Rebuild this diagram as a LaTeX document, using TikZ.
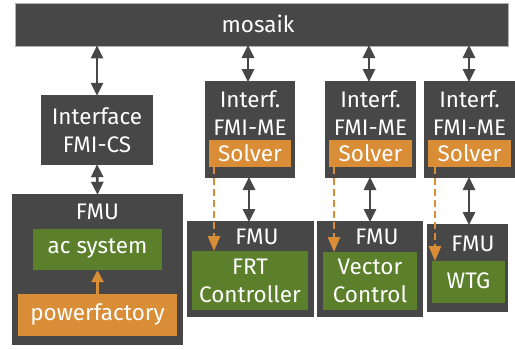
\documentclass[tikz,border=0pt]{standalone}
\usepackage{fontspec}
\setmainfont{Fira Sans}
\usetikzlibrary{arrows.meta}
\definecolor{dg}{HTML}{474747}
\definecolor{og}{HTML}{D98D36}
\definecolor{gn}{HTML}{5B7F2A}
\tikzset{
  dbox/.style={fill=dg, draw=none, inner sep=0pt},
  obox/.style={fill=og, draw=none, inner sep=0pt},
  gbox/.style={fill=gn, draw=none, inner sep=0pt},
  txt/.style={text=white, inner sep=0pt, align=center, font=\fontsize{22.5}{28}\selectfont},
  link/.style={draw=dg, line width=2.6pt, {Triangle[width=12pt,length=13pt]}-{Triangle[width=12pt,length=13pt]}, shorten <=-1pt, shorten >=-1pt},
  ctrl/.style={draw=og, line width=2.6pt, dash pattern=on 7pt off 4pt, -{Triangle[width=12pt,length=15pt]}},
}
\begin{document}
\begin{tikzpicture}[x=1pt,y=-1pt]
\useasboundingbox (0,0) rectangle (515,349);
% mosaik
\node[dbox, draw=gray!60, line width=0.6pt, minimum width=493pt, minimum height=43pt] (mos) at (261.5,24.5) {};
\node[txt] (mosT) at (258,24) {mosaik};
% Interface FMI-CS
\node[dbox, minimum width=112pt, minimum height=70pt] (ics) at (97,130) {};
\node[txt] (icsT) at (97,130) {Interface\\FMI-CS};
% FMU left
\node[dbox, minimum width=171pt, minimum height=151pt] (f1) at (97.5,269.5) {};
\node[txt] (f1T) at (97.5,212) {FMU};
\node[gbox, minimum width=129pt, minimum height=41pt] (ac) at (97.5,249.5) {};
\node[txt] (acT) at (97.5,248) {ac system};
\node[obox, minimum width=159pt, minimum height=42pt] (pf) at (97.5,315) {};
\node[txt] (pfT) at (97.5,314) {powerfactory};
% Interf FMI-ME 1..3
\foreach \n/\l/\r in {1/205/295, 2/325/416, 3/424/515}{
  \pgfmathsetmacro{\cx}{(\l+\r)/2}
  \pgfmathsetmacro{\w}{\r-\l}
  \node[dbox, minimum width=\w pt, minimum height=97pt] (ime\n) at (\cx,129.5) {};
  \node[txt] (imeT\n) at (\cx,113) {Interf.\\FMI-ME};
  \pgfmathsetmacro{\sw}{\w-8}
  \node[obox, minimum width=\sw pt, minimum height=27pt] (sol\n) at (\cx,153.5) {};
  \node[txt] (solT\n) at (\cx,153) {Solver};
}
% FMU 2
\node[dbox, minimum width=127pt, minimum height=96pt] (f2) at (250.5,269) {};
\node[txt] (f2T) at (257,237) {FMU};
\node[gbox, minimum width=116pt, minimum height=59pt] (frt) at (250,280.5) {};
\node[txt] (frtT) at (250,281) {FRT\\Controller};
% FMU 3
\node[dbox, minimum width=106pt, minimum height=96pt] (f3) at (370,269) {};
\node[txt] (f3T) at (377,237) {FMU};
\node[gbox, minimum width=94pt, minimum height=58pt] (vc) at (370,281) {};
\node[txt] (vcT) at (370,281) {Vector\\Control};
% FMU 4
\node[dbox, minimum width=81pt, minimum height=88pt] (f4) at (467.5,268) {};
\node[txt] (f4T) at (473,244) {FMU};
\node[gbox, minimum width=73pt, minimum height=42pt] (wtg) at (468.5,282) {};
\node[txt] (wtgT) at (468.5,281) {WTG};
% gray links
\draw[link] (mos.south -| ics.north) -- (ics.north);
\draw[link] (ics.south) -- (f1.north);
\foreach \n/\x in {1/248,2/369,3/469}{
  \coordinate (a\n) at (\x,46);
  \coordinate (b\n) at (\x,81);
  \draw[link] (a\n) -- (b\n);
}
\coordinate (c1) at (249,178); \coordinate (d1) at (249,221);
\coordinate (c2) at (370,178); \coordinate (d2) at (370,221);
\coordinate (c3) at (469,178); \coordinate (d3) at (469,224);
\foreach \n in {1,2,3}{\draw[link] (c\n) -- (d\n);}
% orange
\draw[og, line width=2.6pt, -{Triangle[width=12pt,length=12pt]}] (pf.north) -- (ac.south);
\coordinate (s1) at (214,167); \coordinate (e1) at (214,251);
\coordinate (s2) at (334,167); \coordinate (e2) at (334,252);
\coordinate (s3) at (435,167); \coordinate (e3) at (435,261);
\foreach \n in {1,2,3}{\draw[ctrl] (s\n) -- (e\n);}
\end{tikzpicture}
\end{document}
